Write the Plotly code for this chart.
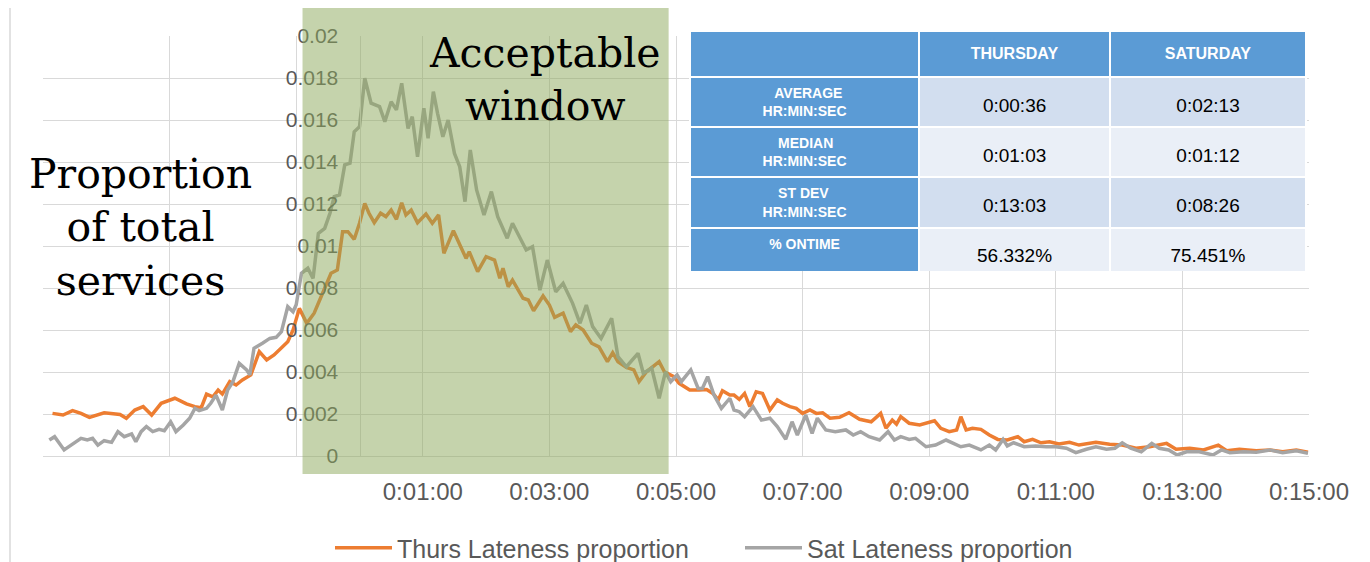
import plotly.graph_objects as go

# ---------------- data ----------------
thu_sec = [-291,-281,-272,-264,-256,-242,-227,-221,-213,-205,-197,-188,-175,-164,-156,-150,-145,-139,-134,-130,
           -123,-117,-111,-103,-95,-88,-81,-74,-68,-63,-57,-50,-43,-35,-27,-21,-16,-11,-5,0,
           5,9,14,20,25,30,35,40,44,49,55,63,69,75,80,89,96,101,104,112,
           120,128,133,136,141,145,155,160,165,174,180,185,193,200,205,212,220,227,235,240,
           245,253,260,265,272,278,284,289,298,303,313,322,329,335,340,344,351,355,360,365,
           370,376,382,389,396,401,408,414,420,427,433,439,446,455,464,474,485,494,499,505,
           509,513,521,531,537,545,551,559,566,570,575,581,589,597,605,614,624,630,638,646,
           654,663,673,682,698,711,723,736,749,765,774,787,800,814,822,834,850,863,875,888,899]
thu_val = [0.00203,0.00195,0.00216,0.00203,0.00184,0.00206,0.00198,0.0018,0.00219,0.00235,0.00195,0.00251,0.00275,0.00248,0.00235,0.0023,0.00295,0.00282,0.00314,0.00295,
           0.00354,0.00338,0.00362,0.00386,0.00497,0.00457,0.00481,0.00513,0.00544,0.006,0.00703,0.00632,0.0068,0.00775,0.0087,0.00886,0.01068,0.01068,0.01032,0.01108,
           0.01203,0.01156,0.01111,0.01156,0.0114,0.01171,0.01127,0.01206,0.01148,0.01171,0.01111,0.01152,0.01108,0.01148,0.00965,0.01073,0.00997,0.00941,0.00973,0.00878,
           0.00949,0.00933,0.00846,0.00894,0.00806,0.00838,0.00751,0.00743,0.00692,0.00762,0.00719,0.0066,0.0068,0.00592,0.00624,0.006,0.00537,0.0052,0.00449,0.00492,
           0.00449,0.00422,0.0041,0.00354,0.00401,0.00425,0.00449,0.00401,0.00378,0.00346,0.00314,0.00314,0.00317,0.00298,0.00267,0.00311,0.0029,0.0029,0.0027,0.00298,
           0.00235,0.00306,0.00298,0.00219,0.00267,0.00251,0.00235,0.00227,0.00203,0.00219,0.00203,0.00206,0.0018,0.00184,0.00206,0.00175,0.00163,0.00203,0.00132,0.00171,
           0.00152,0.00187,0.00156,0.00148,0.00156,0.00168,0.00132,0.00116,0.00124,0.00187,0.00124,0.00132,0.00127,0.001,0.00079,0.00076,0.00092,0.00068,0.00079,0.00063,
           0.00068,0.00057,0.00065,0.00052,0.00065,0.00056,0.00052,0.00037,0.00044,0.0006,0.00032,0.00037,0.00029,0.00052,0.00025,0.00032,0.00025,0.00029,0.0002,0.00029,0.00018]

sat_sec = [-294,-289,-280,-272,-264,-258,-253,-248,-242,-235,-229,-223,-216,-212,-207,-202,-196,-190,-185,-179,
           -174,-167,-161,-156,-152,-145,-141,-136,-130,-125,-120,-114,-107,-104,-100,-92,-85,-79,-74,-68,
           -63,-60,-55,-49,-44,-39,-33,-28,-24,-19,-14,-9,-5,0,5,11,19,24,30,35,
           40,46,50,55,61,65,70,74,79,84,90,95,100,105,111,118,125,131,140,145,
           152,158,164,171,178,186,193,202,209,215,221,229,239,245,253,264,269,277,284,290,
           295,301,305,314,321,325,330,336,343,351,355,360,365,373,381,389,396,404,410,415,
           423,429,434,442,451,461,468,475,483,493,501,507,513,521,527,537,546,556,570,578,
           589,597,603,610,614,620,630,641,651,660,670,679,689,698,708,716,723,731,741,751,
           758,767,775,784,796,809,817,825,838,850,863,875,888,899]
sat_val = [0.00076,0.00092,0.00029,0.00057,0.00084,0.00076,0.00084,0.00052,0.00073,0.00065,0.00116,0.00092,0.00105,0.00068,0.00116,0.0014,0.00116,0.00127,0.0012,0.00163,
           0.00116,0.00148,0.0018,0.00227,0.00216,0.00227,0.00251,0.0029,0.00219,0.00314,0.00354,0.00441,0.0041,0.00386,0.00513,0.00537,0.0056,0.00565,0.00592,0.00711,
           0.00687,0.0072,0.0087,0.00894,0.00846,0.0106,0.01084,0.01156,0.01235,0.01243,0.01386,0.01394,0.01544,0.01568,0.01799,0.0168,0.01664,0.01592,0.01687,0.01648,
           0.01775,0.0156,0.01616,0.01425,0.01656,0.01513,0.01735,0.01632,0.0152,0.016,0.01441,0.01378,0.01211,0.01457,0.01267,0.01148,0.01259,0.0114,0.01037,0.01108,
           0.01037,0.00981,0.00997,0.0079,0.00933,0.00782,0.00822,0.00727,0.00632,0.00719,0.00616,0.0056,0.00656,0.00473,0.00425,0.00489,0.00394,0.00418,0.00275,0.00401,
           0.00354,0.00386,0.00354,0.0041,0.00322,0.00322,0.00378,0.0029,0.00227,0.00275,0.00219,0.00211,0.00187,0.00235,0.00171,0.0018,0.0014,0.0008,0.00163,0.001,
           0.00195,0.00108,0.0018,0.00124,0.00116,0.00124,0.001,0.00116,0.00092,0.00076,0.00116,0.00076,0.00092,0.00079,0.00084,0.00044,0.00052,0.00076,0.00044,0.00052,
           0.00029,0.00052,0.00029,0.00079,0.00048,0.00063,0.00044,0.00048,0.00044,0.00044,0.00037,0.00016,0.00032,0.00044,0.00032,0.00037,0.00063,0.00037,0.0002,0.0006,
           0.00037,0.00029,0.00005,0.0002,0.0002,0.00005,0.00029,0.00016,0.0002,0.00018,0.00029,0.00016,0.00025,0.00013]

x_tick_secs = [60, 180, 300, 420, 540, 660, 780, 900]
x_tick_labels = ["0:01:00", "0:03:00", "0:05:00", "0:07:00", "0:09:00", "0:11:00", "0:13:00", "0:15:00"]
x_grid_only_secs = [-300, -180, -60]
y_tick_vals = [0, 0.002, 0.004, 0.006, 0.008, 0.01, 0.012, 0.014, 0.016, 0.018, 0.02]
y_tick_labels = ["0", "0.002", "0.004", "0.006", "0.008", "0.01", "0.012", "0.014", "0.016", "0.018", "0.02"]

window_sec = [-54, 293]

table_header = ["", "THURSDAY", "SATURDAY"]
table_rows = [["AVERAGE", "HR:MIN:SEC"], ["MEDIAN", "HR:MIN:SEC"], ["ST DEV", "HR:MIN:SEC"], ["% ONTIME"]]
table_thu = ["0:00:36", "0:01:03", "0:13:03", "56.332%"]
table_sat = ["0:02:13", "0:01:12", "0:08:26", "75.451%"]

# ---------------- figure ----------------
OFF = 8                      # page body margin
W, H = 1370 - OFF, 562 - OFF
ML, MR, MT, MB = 35, 61, 18, 106
PW, PH = W - ML - MR, H - MT - MB

def px_x(px):
    return (px - OFF - ML) / PW

def px_y(py):
    return (H - MB - (py - OFF)) / PH

AX = "Liberation Sans"
GRID = "#D9D9D9"
TXT = "#595959"

fig = go.Figure()
fig.add_trace(go.Scatter(x=thu_sec, y=thu_val, mode="lines", name="Thurs Lateness proportion",
                         line=dict(color="#ED7D31", width=3.5)))
fig.add_trace(go.Scatter(x=sat_sec, y=sat_val, mode="lines", name="Sat Lateness proportion",
                         line=dict(color="#A5A5A5", width=3.5)))


def label_cell(lines):
    if len(lines) == 1:
        return "<b>%s</b>" % lines[0]
    widest = max(len(s) for s in lines)
    out = []
    for s in lines:
        pad = "\u00a0" * int(round((widest - len(s)) * 0.95))
        out.append("<b>%s%s</b>" % (pad, s))
    return "<br>".join(out)


def lowered(text, size, bold=False):
    # a blank small first line pushes the visible text down toward the cell middle
    inner = "<b>%s</b>" % text if bold else text
    if not text:
        return ""
    return "\u00a0<br><span style='font-size:%dpx'>%s</span>" % (size, inner)


blue = "#5B9BD5"
shade = ["#D2DEEF", "#EAEFF7", "#D2DEEF", "#EAEFF7"]
fig.add_trace(go.Table(
    domain=dict(x=[px_x(690), px_x(1306)], y=[px_y(272), px_y(31)]),
    columnwidth=[228, 190, 195],
    header=dict(values=[lowered(h, 16, bold=True) for h in table_header], fill_color=blue,
                font=dict(color="white", size=9, family=AX), align="center", height=46,
                line=dict(color="white", width=2)),
    cells=dict(values=[[label_cell(r) for r in table_rows],
                       [lowered(v, 19) for v in table_thu],
                       [lowered(v, 19) for v in table_sat]],
               fill_color=[[blue] * 4, shade, shade],
               font=dict(color=["white", "black", "black"], size=[14, 12, 12], family=AX),
               align="center", height=48, line=dict(color="white", width=2)),
))

fig.update_layout(
    width=W, height=H,
    margin=dict(l=ML, r=MR, t=MT, b=MB, autoexpand=False),
    paper_bgcolor="white", plot_bgcolor="white",
    showlegend=True,
    legend=dict(orientation="h", x=px_x(740), xanchor="center", y=px_y(548), yanchor="middle",
                entrywidth=338, entrywidthmode="pixels", itemwidth=57,
                font=dict(family=AX, size=25, color=TXT), bgcolor="rgba(0,0,0,0)"),
    xaxis=dict(range=[-300, 900], tickvals=x_tick_secs, ticktext=x_tick_labels,
               showgrid=True, gridcolor=GRID, gridwidth=1, zeroline=False,
               minor=dict(tickvals=x_grid_only_secs, showgrid=True, gridcolor=GRID, gridwidth=1, ticks=""),
               showline=True, linecolor=GRID, linewidth=1, ticks="",
               tickfont=dict(family=AX, size=24, color=TXT), ticklabelstandoff=14),
    yaxis=dict(range=[0, 0.02], tickvals=y_tick_vals, ticktext=y_tick_labels,
               domain=[0, 420 / PH], anchor="free", position=0.25,
               showgrid=True, gridcolor=GRID, gridwidth=1, zeroline=False,
               showline=True, linecolor=GRID, linewidth=1, ticks="",
               tickfont=dict(family=AX, size=21, color=TXT), ticklabelstandoff=17),
    shapes=[
        dict(type="rect", xref="x", yref="paper", x0=window_sec[0], x1=window_sec[1],
             y0=px_y(474), y1=px_y(0), fillcolor="rgba(139,167,89,0.5)", line=dict(width=0),
             layer="above"),
        dict(type="line", xref="paper", yref="paper", x0=px_x(10), x1=px_x(10),
             y0=px_y(562), y1=px_y(0), line=dict(color=GRID, width=1.5)),
    ],
    annotations=[
        dict(text="Proportion<br>of total<br>services", xref="paper", yref="paper",
             x=px_x(140), y=px_y(227), xanchor="center", yanchor="middle", showarrow=False,
             font=dict(family="DejaVu Serif", size=41, color="black"), align="center"),
        dict(text="Acceptable<br>window", xref="paper", yref="paper",
             x=px_x(545), y=px_y(80), xanchor="center", yanchor="middle", showarrow=False,
             font=dict(family="DejaVu Serif", size=41, color="black"), align="center"),
    ],
)

fig.write_html("out.html")
